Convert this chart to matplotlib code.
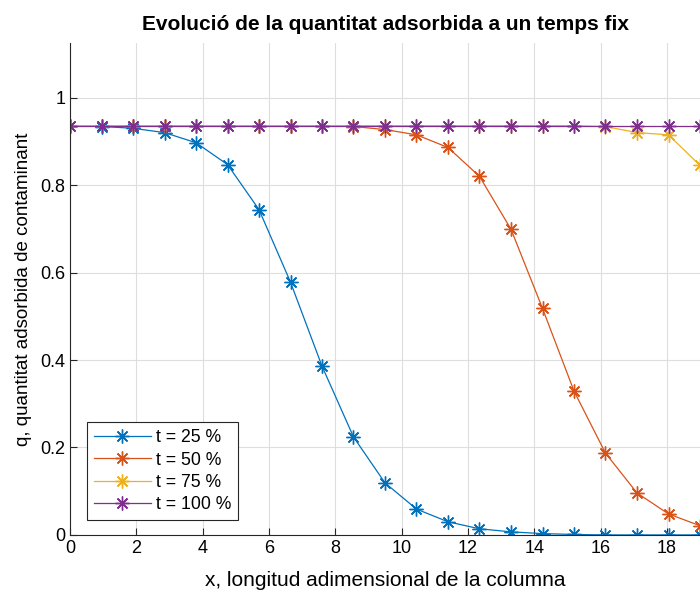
import numpy as np
import matplotlib.pyplot as plt

plt.rcParams['font.family'] = ['Liberation Sans', 'DejaVu Sans']

# posicions al llarg de la columna
x = np.linspace(0, 19, 21)

q_25 = [0.936, 0.934, 0.930, 0.920, 0.897, 0.847, 0.744, 0.578, 0.386, 0.224, 0.119,
        0.059, 0.030, 0.014, 0.007, 0.003, 0.001, 0.0, 0.0, 0.0, 0.0]
q_50 = [0.936, 0.936, 0.936, 0.936, 0.936, 0.936, 0.936, 0.936, 0.936, 0.934, 0.927,
        0.915, 0.886, 0.820, 0.699, 0.518, 0.329, 0.187, 0.096, 0.048, 0.021]
q_75 = [0.936, 0.936, 0.936, 0.936, 0.936, 0.936, 0.936, 0.936, 0.936, 0.936, 0.936,
        0.936, 0.936, 0.936, 0.936, 0.936, 0.936, 0.934, 0.920, 0.915, 0.845]
q_100 = [0.936] * 21

etiquetes = ['t = 25 %', 't = 50 %', 't = 75 %', 't = 100 %']
colors = ['#0072BD', '#D95319', '#EDB120', '#7E2F8E']

fig = plt.figure(figsize=(7, 5.97), dpi=100)
ax = fig.add_axes([0.1, 0.104, 0.9, 0.824])

asterisc = (8, 2, 0)
for q, lab, c in zip([q_25, q_50, q_75, q_100], etiquetes, colors):
    ax.plot(x, q, color=c, lw=0.9, marker=asterisc, markersize=10,
            markeredgewidth=1.0, label=lab)

ax.set_xlim(0, 19)
ax.set_ylim(0, 1.125)
ax.set_xticks(np.arange(0, 19, 2))
ax.set_yticks([0, 0.2, 0.4, 0.6, 0.8, 1])
ax.set_yticklabels(['0', '0.2', '0.4', '0.6', '0.8', '1'])
ax.grid(True, color='#dedede', lw=0.8)
ax.set_axisbelow(True)
ax.tick_params(direction='in', labelsize=13, length=5, width=0.8, color='#262626')
for s in ['top', 'right']:
    ax.spines[s].set_visible(False)
for s in ['left', 'bottom']:
    ax.spines[s].set_color('#262626')
    ax.spines[s].set_linewidth(0.8)

ax.set_title('Evolució de la quantitat adsorbida a un temps fix',
             fontsize=15, fontweight='bold', pad=9)
ax.set_xlabel('x, longitud adimensional de la columna', fontsize=15, labelpad=10)
ax.set_ylabel('q, quantitat adsorbida de contaminant', fontsize=13.5, labelpad=6)

leg = ax.legend(loc='lower left', bbox_to_anchor=(0.027, 0.03), fontsize=12.7,
                fancybox=False, framealpha=1, edgecolor='#262626',
                handlelength=3.2, handletextpad=0.3, borderpad=0.4,
                labelspacing=0.3, borderaxespad=0)
leg.get_frame().set_linewidth(0.8)

fig.savefig('out.png', dpi=100)
